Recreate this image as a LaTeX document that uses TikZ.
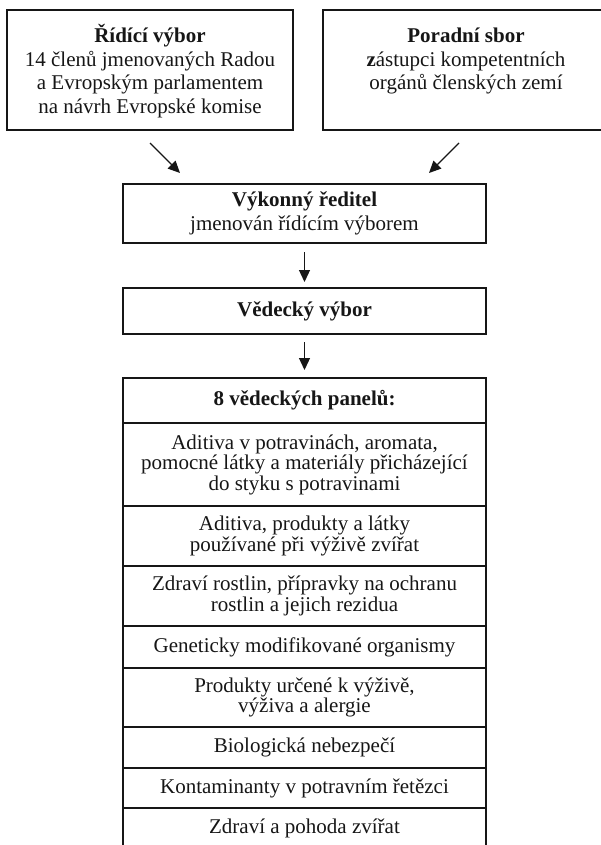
\documentclass[tikz,border=0pt]{standalone}
\usepackage{fontspec}
\setmainfont{Liberation Serif}
\usetikzlibrary{arrows.meta,calc}
\definecolor{ink}{HTML}{161616}
% invisible rules giving both top boxes the same line frame
\newcommand\firstlinestrut{\rule{0pt}{24pt}}
\newcommand\lastlinestrut{\rule[-7.5pt]{0pt}{7.5pt}}
\begin{document}
\begin{tikzpicture}[x=1pt,y=-1pt,
  box/.style={draw=ink, line width=1.3pt, text=ink, inner sep=0pt, outer sep=0pt,
    align=center, font=\fontsize{21}{23.5}\selectfont},
  topbox/.style={box, minimum width=286pt, minimum height=120pt},
  midbox/.style={box, minimum width=363pt},
  row/.style={box, minimum width=363pt, anchor=north,
    font=\fontsize{21}{20.5}\selectfont},
  arr/.style={draw=ink, line width=1.3pt, -{Triangle[length=12pt,width=11pt]}}
]
\useasboundingbox (0,0) rectangle (601,845);
\clip (0,0) rectangle (601,845);

% governing bodies
\node[topbox] (rv) at (150,70)
  {\firstlinestrut\textbf{Řídící výbor}\\14 členů jmenovaných Radou\\a Evropským parlamentem\\na návrh Evropské komise\lastlinestrut};
\node[topbox] (ps) at (466,70)
  {\firstlinestrut\textbf{Poradní sbor}\\\textbf{z}ástupci kompetentních\\orgánů členských zemí\\\lastlinestrut};

\node[midbox, minimum height=59pt] (vr) at (304.5,213.5)
  {\textbf{Výkonný ředitel}\\jmenován řídícím výborem};
\node[midbox, minimum height=46pt] (vv) at (304.5,311)
  {\textbf{Vědecký výbor}};

% scientific panels
\node[row, minimum height=45pt] (p0) at (304.5,378) {\textbf{8 vědeckých panelů:}};
\node[row, minimum height=83pt] (p1) at (p0.south)
  {Aditiva v potravinách, aromata,\\pomocné látky a materiály přicházející\\do styku s potravinami};
\node[row, minimum height=60pt] (p2) at (p1.south)
  {Aditiva, produkty a látky\\používané při výživě zvířat};
\node[row, minimum height=60pt] (p3) at (p2.south)
  {Zdraví rostlin, přípravky na ochranu\\rostlin a jejich rezidua};
\node[row, minimum height=42pt] (p4) at (p3.south)
  {Geneticky modifikované organismy};
\node[row, minimum height=59pt] (p5) at (p4.south)
  {Produkty určené k výživě,\\výživa a alergie};
\node[row, minimum height=41pt] (p6) at (p5.south)
  {Biologická nebezpečí};
\node[row, minimum height=40pt] (p7) at (p6.south)
  {Kontaminanty v potravním řetězci};
\node[row, minimum height=40pt] (p8) at (p7.south)
  {Zdraví a pohoda zvířat};

% connectors
\draw[arr] ($(rv.south)+(0,13)$) -- ($(vr.north)+(-124.5,-11)$);
\draw[arr] ($(ps.south)+(-7,13)$) -- ($(vr.north)+(124.5,-11)$);
\draw[arr] ($(vr.south)+(0,9)$) -- ($(vv.north)+(0,-6)$);
\draw[arr] ($(vv.south)+(0,8)$) -- ($(p0.north)+(0,-8)$);
\end{tikzpicture}
\end{document}
